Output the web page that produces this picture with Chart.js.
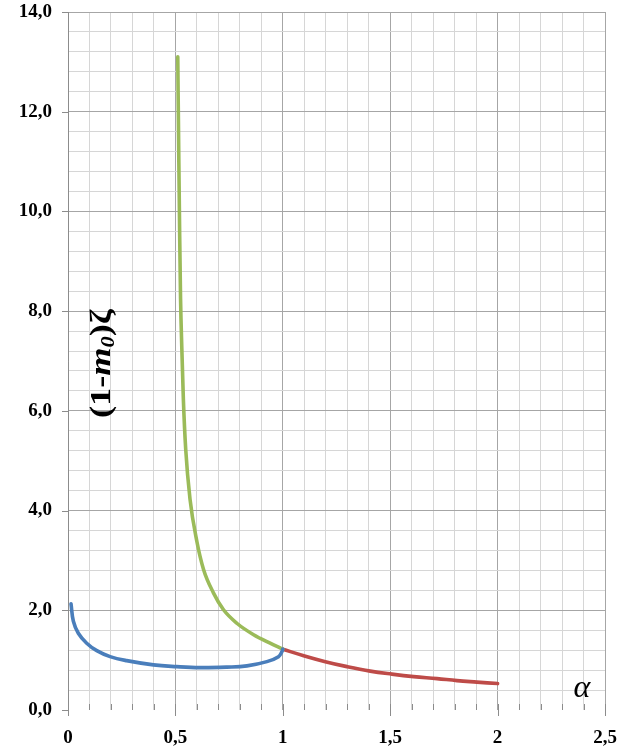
<!DOCTYPE html>
<html>
<head>
<meta charset="utf-8">
<script src="https://cdn.jsdelivr.net/npm/chart.js@4/dist/chart.umd.min.js"></script>
<style>
  html, body { margin: 0; padding: 0; background: #ffffff; }
  #wrap { width: 624px; height: 746px; position: relative; }
</style>
</head>
<body>
<div id="wrap"><canvas id="c" width="624" height="746"></canvas></div>
<script>
// Branch 1: 0 < α ≤ 1 (lower branch)
const blueX = [0.014, 0.025, 0.048, 0.087, 0.134, 0.196, 0.273, 0.398, 0.506, 0.615, 0.739, 0.833, 0.926, 0.980, 0.996, 1.0];
const blueY = [2.13, 1.78, 1.54, 1.34, 1.19, 1.07, 0.99, 0.905, 0.87, 0.85, 0.86, 0.885, 0.97, 1.07, 1.17, 1.22];

// Branch 2: 0.5 < α ≤ 1 (upper branch)
const greenX = [0.511, 0.516, 0.520, 0.524, 0.530, 0.537, 0.548, 0.568, 0.600, 0.631, 0.677, 0.724, 0.786, 0.864, 0.941, 1.0];
const greenY = [13.1, 11.0, 9.5, 8.25, 7.24, 6.24, 5.23, 4.23, 3.38, 2.82, 2.35, 2.01, 1.74, 1.51, 1.34, 1.22];

// Branch 3: 1 ≤ α ≤ 2
const redX = [1.0, 1.097, 1.198, 1.299, 1.407, 1.508, 1.609, 1.718, 1.811, 1.904, 2.0];
const redY = [1.22, 1.09, 0.97, 0.87, 0.78, 0.72, 0.67, 0.63, 0.59, 0.56, 0.53];

// Axis ranges and tick spacing
const xRange = [0, 2.5];
const xStep = 0.1;
const xLabelStep = 0.5;
const yRange = [0, 14];
const yStep = 0.4;
const yLabelStep = 2;

const xTitle = 'α';

const toPoints = (xs, ys) => xs.map((x, i) => ({ x: x, y: ys[i] }));
const isMultiple = (v, step) => Math.abs(v / step - Math.round(v / step)) < 1e-6;

const MAJOR = '#a6a6a6';
const MINOR = '#d6d6d6';
const SERIF = '"Liberation Serif", "Times New Roman", serif';

// Tick marks, the rotated y title and the α label
const decor = {
  id: 'decor',
  afterDraw(chart) {
    const ctx = chart.ctx;
    const xs = chart.scales.x, ys = chart.scales.y;
    const ca = chart.chartArea;
    ctx.save();
    ctx.strokeStyle = '#8c8c8c';
    ctx.lineWidth = 1;
    // x ticks
    for (let v = xRange[0]; v <= xRange[1] + 1e-9; v += xStep) {
      const px = Math.round(xs.getPixelForValue(v)) + 0.5;
      const major = isMultiple(v, xLabelStep);
      ctx.beginPath();
      ctx.moveTo(px, ca.bottom - 6);
      ctx.lineTo(px, ca.bottom + (major ? 6 : 0));
      ctx.stroke();
    }
    // y ticks
    for (let v = yRange[0]; v <= yRange[1] + 1e-9; v += yLabelStep) {
      const py = Math.round(ys.getPixelForValue(v)) + 0.5;
      ctx.beginPath();
      ctx.moveTo(ca.left - 6, py);
      ctx.lineTo(ca.left, py);
      ctx.stroke();
    }

    // y title: (1-m0)ζ, rotated
    ctx.fillStyle = '#000000';
    ctx.textBaseline = 'alphabetic';
    ctx.textAlign = 'left';
    ctx.translate(110, 418);
    ctx.rotate(-Math.PI / 2);
    ctx.scale(1.25, 1);
    const parts = [
      { t: '(1-', f: 'bold 29px ' + SERIF, dy: 0 },
      { t: 'm', f: 'italic bold 29px ' + SERIF, dy: 0 },
      { t: '0', f: 'italic bold 18px ' + SERIF, dy: 4 },
      { t: ')', f: 'bold 29px ' + SERIF, dy: 0 },
      { t: 'ζ', f: 'bold 29px ' + SERIF, dy: 0 }
    ];
    let off = 0;
    for (const p of parts) {
      ctx.font = p.f;
      ctx.fillText(p.t, off, p.dy);
      off += ctx.measureText(p.t).width;
    }
    ctx.restore();

    // x title
    ctx.save();
    ctx.fillStyle = '#000000';
    ctx.font = 'italic 32px ' + SERIF;
    ctx.textAlign = 'center';
    ctx.textBaseline = 'alphabetic';
    ctx.fillText(xTitle, 582, 697);
    ctx.restore();
  }
};

const lineStyle = (color, smooth) => Object.assign({
  borderColor: color,
  backgroundColor: color,
  borderWidth: 3.6,
  pointRadius: 0,
  showLine: true,
  fill: false,
  borderCapStyle: 'round',
  borderJoinStyle: 'round'
}, smooth);

new Chart(document.getElementById('c'), {
  type: 'scatter',
  data: {
    datasets: [
      Object.assign({ label: 'branch 1', data: toPoints(blueX, blueY) }, lineStyle('#4a7ebb', { tension: 0.4 })),
      Object.assign({ label: 'branch 2', data: toPoints(greenX, greenY) }, lineStyle('#9bbb59', { cubicInterpolationMode: 'monotone' })),
      Object.assign({ label: 'branch 3', data: toPoints(redX, redY) }, lineStyle('#be4b48', { tension: 0.4 }))
    ]
  },
  options: {
    responsive: false,
    animation: false,
    layout: { padding: { top: 12, right: 19, left: 0, bottom: 0 } },
    plugins: { legend: { display: false }, tooltip: { enabled: false } },
    scales: {
      x: {
        type: 'linear',
        min: xRange[0], max: xRange[1],
        afterFit(s) { s.height = 36; s.paddingLeft = 0; s.paddingRight = 0; },
        border: { display: false },
        grid: {
          drawTicks: false,
          color: (c) => isMultiple(c.tick.value, xLabelStep) ? MAJOR : MINOR,
          lineWidth: 1
        },
        ticks: {
          stepSize: xStep,
          autoSkip: false,
          maxRotation: 0,
          padding: 17,
          color: '#000000',
          font: { family: SERIF, size: 19, weight: 'bold' },
          callback: (v) => isMultiple(v, xLabelStep) ? String(Math.round(v * 10) / 10).replace('.', ',') : ''
        }
      },
      y: {
        type: 'linear',
        min: yRange[0], max: yRange[1],
        afterFit(s) { s.width = 68; s.paddingTop = 0; s.paddingBottom = 0; },
        border: { display: true, color: '#8c8c8c', width: 1 },
        grid: {
          drawTicks: false,
          color: (c) => c.tick.value === 0 ? 'rgba(0,0,0,0)' : (isMultiple(c.tick.value, yLabelStep) ? MAJOR : MINOR),
          lineWidth: 1
        },
        ticks: {
          stepSize: yStep,
          autoSkip: false,
          padding: 16,
          color: '#000000',
          font: { family: SERIF, size: 19, weight: 'bold' },
          callback: (v) => isMultiple(v, yLabelStep) ? v.toFixed(1).replace('.', ',') : ''
        }
      }
    }
  },
  plugins: [decor]
});
</script>
</body>
</html>
